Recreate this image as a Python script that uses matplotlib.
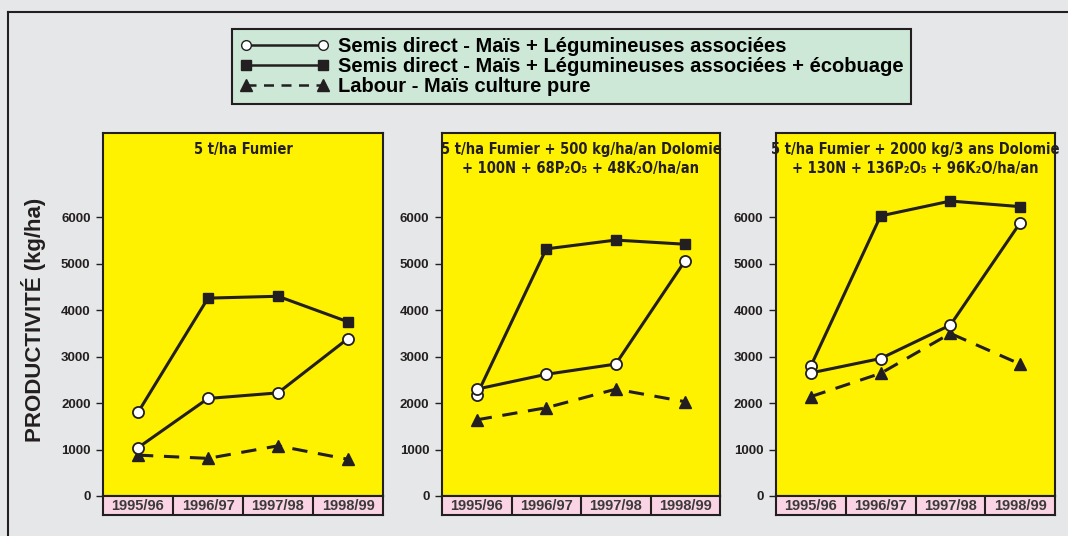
import matplotlib
matplotlib.use('Agg')
import matplotlib.pyplot as plt
from matplotlib.lines import Line2D
from matplotlib import font_manager

years = ['1995/96', '1996/97', '1997/98', '1998/99']
titles = ['5 t/ha Fumier',
          '5 t/ha Fumier + 500 kg/ha/an Dolomie\n+ 100N + 68P\u2082O\u2085 + 48K\u2082O/ha/an',
          '5 t/ha Fumier + 2000 kg/3 ans Dolomie\n+ 130N + 136P\u2082O\u2085 + 96K\u2082O/ha/an']

# semis direct + legumineuses (open circles)
sd_leg = [[1040, 2100, 2220, 3390],
          [2300, 2620, 2840, 5070],
          [2650, 2960, 3680, 5880]]
# semis direct + legumineuses + ecobuage (squares, first point drawn as circle)
sd_eco = [[1800, 4260, 4300, 3750],
          [2170, 5320, 5510, 5420],
          [2800, 6030, 6350, 6230]]
# labour, mais pur (triangles)
labour = [[880, 810, 1080, 790],
          [1640, 1900, 2300, 2030],
          [2140, 2640, 3500, 2840]]

legend_labels = ['Semis direct - Maïs + Légumineuses associées',
                 'Semis direct - Maïs + Légumineuses associées + écobuage',
                 'Labour - Maïs culture pure']

bg = '#e6e7e8'
yellow = '#fff200'
pink = '#fad4e4'
green = '#cde8d6'
dark = '#231f20'

plt.rcParams['font.family'] = ['Liberation Sans', 'DejaVu Sans']

# narrow font for panel titles if one is installed
title_font = dict(family=['Liberation Sans', 'DejaVu Sans'], size=10.5)
names = {f.name for f in font_manager.fontManager.ttflist}
if 'Liberation Sans Narrow' in names:
    title_font = dict(family=['Liberation Sans Narrow', 'DejaVu Sans'], size=12)
elif 'DejaVu Sans Condensed' in names:
    title_font = dict(family=['DejaVu Sans Condensed', 'DejaVu Sans'], size=10.5)
else:
    p = font_manager.findfont(font_manager.FontProperties(
        family='DejaVu Sans', stretch='condensed', weight='bold'))
    if 'Condensed' in p:
        title_font = dict(family=['DejaVu Sans'], stretch='condensed', size=10.5)

fig = plt.figure(figsize=(10.68, 5.36), dpi=100, facecolor=bg)

# frame lines (top and left)
fig.add_artist(Line2D([8/1068, 1], [1 - 12/536, 1 - 12/536], color=dark, lw=1.5))
fig.add_artist(Line2D([8/1068, 8/1068], [0, 1 - 12/536], color=dark, lw=1.5))

lefts = [103, 442, 776]
widths = [280, 278, 279]
x = list(range(4))
ticks = list(range(0, 7000, 1000))

for i in range(3):
    ax = fig.add_axes([lefts[i]/1068, 40/536, widths[i]/1068, 363/536])
    ax.set_facecolor(yellow)
    ax.plot(x, labour[i], color=dark, lw=2.2, ls=(0, (5, 3.5)), marker='^', ms=9,
            markerfacecolor=dark, markeredgecolor=dark, zorder=3)
    ax.plot(x, sd_eco[i], color=dark, lw=2.2, zorder=4)
    ax.plot(x[1:], sd_eco[i][1:], ls='none', marker='s', ms=7,
            markerfacecolor=dark, markeredgecolor=dark, zorder=5)
    ax.plot(x[:1], sd_eco[i][:1], ls='none', marker='o', ms=8,
            markerfacecolor='white', markeredgecolor=dark, mew=1.3, zorder=5)
    ax.plot(x, sd_leg[i], color=dark, lw=2.2, marker='o', ms=8,
            markerfacecolor='white', markeredgecolor=dark, mew=1.3, zorder=6)
    ax.set_xlim(-0.5, 3.5)
    ax.set_ylim(0, 7815)
    ax.set_xticks([])
    ax.set_yticks(ticks, [str(t) for t in ticks], fontweight='bold', fontsize=9.5,
                  color=dark)
    ax.tick_params(axis='y', direction='out', length=5, width=1, color=dark, pad=4)
    for s in ax.spines.values():
        s.set_color(dark)
        s.set_linewidth(1.5)
    ax.text(0.5, 0.975, titles[i], transform=ax.transAxes, ha='center', va='top',
            fontweight='bold', color=dark, linespacing=1.35, **title_font)

    strip = ax.inset_axes([0, -19/363, 1, 19/363])
    strip.set_facecolor(pink)
    strip.set_xlim(0, 4)
    strip.set_ylim(0, 1)
    strip.set_xticks([])
    strip.set_yticks([])
    for s in strip.spines.values():
        s.set_color(dark)
        s.set_linewidth(1.5)
    for k in range(1, 4):
        strip.axvline(k, color=dark, lw=1.5)
    for k, yr in enumerate(years):
        strip.text(k + 0.5, 0.45, yr, ha='center', va='center', fontsize=10.5,
                   fontweight='bold', color='#3a3a3a')

fig.text(34/1068, 1 - 320/536, 'PRODUCTIVITÉ (kg/ha)', rotation=90, ha='center',
         va='center', fontsize=16, fontweight='bold', color=dark)

handles = [
    Line2D([], [], color=dark, lw=1.8, marker='o', ms=7, markerfacecolor='white',
           markeredgecolor=dark),
    Line2D([], [], color=dark, lw=1.8, marker='s', ms=7, markerfacecolor=dark,
           markeredgecolor=dark),
    Line2D([], [], color=dark, lw=1.8, ls=(0, (4, 3)), marker='^', ms=8,
           markerfacecolor=dark, markeredgecolor=dark),
]
leg = fig.legend(handles, legend_labels, loc='upper left',
                 bbox_to_anchor=(232/1068, 1 - 29/536), numpoints=2,
                 handlelength=4.4, handletextpad=0.45, labelspacing=0.05,
                 borderpad=0.4, borderaxespad=0, fancybox=False, framealpha=1,
                 prop={'weight': 'bold', 'size': 14.5})
leg.get_frame().set_facecolor(green)
leg.get_frame().set_edgecolor(dark)
leg.get_frame().set_linewidth(1.5)

fig.savefig('out.png', dpi=100, facecolor=bg)
